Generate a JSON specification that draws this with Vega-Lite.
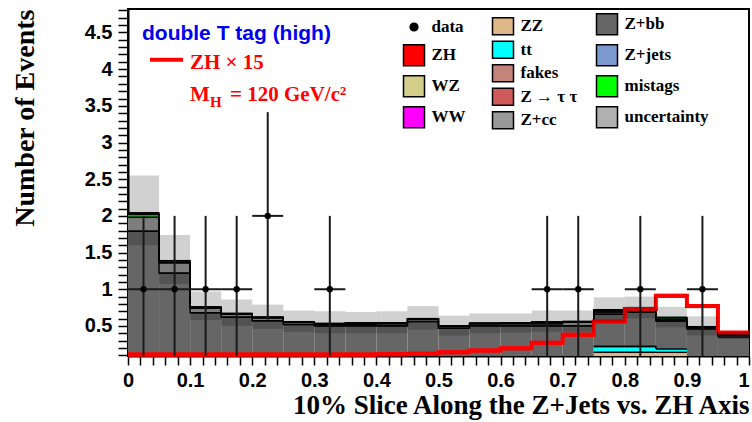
{
  "$schema": "https://vega.github.io/schema/vega-lite/v6.json",
  "width": 621,
  "height": 347,
  "autosize": {"type": "none"},
  "padding": {"left": 128, "top": 9, "right": 3, "bottom": 66},
  "background": "white",
  "config": {
    "view": {"stroke": "black", "strokeWidth": 2},
    "axis": {"grid": false, "domainColor": "black", "domainWidth": 2, "tickColor": "black", "tickWidth": 1.5, "labelFont": "Liberation Sans", "labelFontWeight": "bold", "labelFontSize": 20, "labelColor": "black", "titleFont": "Liberation Serif", "titleFontWeight": "bold", "titleColor": "black", "labelOverlap": false, "labelFlush": false},
    "legend": {"padding": 0, "labelFont": "Liberation Serif", "labelFontWeight": "bold", "labelFontSize": 17, "labelColor": "black", "symbolStrokeColor": "black", "symbolStrokeWidth": 1.5}
  },
  "datasets": {
    "comps": [
      {"x0":0,"x1":0.05,"comp":"Z+bb","ord":3,"v":1.79},{"x0":0,"x1":0.05,"comp":"Z+cc","ord":4,"v":0.19},{"x0":0,"x1":0.05,"comp":"mistags","ord":5,"v":0.04},{"x0":0,"x1":0.05,"comp":"fakes","ord":6,"v":0.02},
      {"x0":0.05,"x1":0.1,"comp":"Z+bb","ord":3,"v":1.22},{"x0":0.05,"x1":0.1,"comp":"Z+cc","ord":4,"v":0.14},{"x0":0.05,"x1":0.1,"comp":"mistags","ord":5,"v":0.01},{"x0":0.05,"x1":0.1,"comp":"fakes","ord":6,"v":0.02},
      {"x0":0.1,"x1":0.15,"comp":"Z+bb","ord":3,"v":0.68},{"x0":0.1,"x1":0.15,"comp":"Z+cc","ord":4,"v":0.06},{"x0":0.1,"x1":0.15,"comp":"mistags","ord":5,"v":0.01},{"x0":0.1,"x1":0.15,"comp":"fakes","ord":6,"v":0.01},
      {"x0":0.15,"x1":0.2,"comp":"Z+bb","ord":3,"v":0.62},{"x0":0.15,"x1":0.2,"comp":"Z+cc","ord":4,"v":0.04},{"x0":0.15,"x1":0.2,"comp":"mistags","ord":5,"v":0.005},{"x0":0.15,"x1":0.2,"comp":"fakes","ord":6,"v":0.005},
      {"x0":0.2,"x1":0.25,"comp":"Z+bb","ord":3,"v":0.57},{"x0":0.2,"x1":0.25,"comp":"Z+cc","ord":4,"v":0.04},{"x0":0.2,"x1":0.25,"comp":"mistags","ord":5,"v":0.005},{"x0":0.2,"x1":0.25,"comp":"fakes","ord":6,"v":0.005},
      {"x0":0.25,"x1":0.3,"comp":"Z+bb","ord":3,"v":0.52},{"x0":0.25,"x1":0.3,"comp":"Z+cc","ord":4,"v":0.03},{"x0":0.25,"x1":0.3,"comp":"mistags","ord":5,"v":0.004},{"x0":0.25,"x1":0.3,"comp":"fakes","ord":6,"v":0.004},
      {"x0":0.3,"x1":0.35,"comp":"Z+bb","ord":3,"v":0.5},{"x0":0.3,"x1":0.35,"comp":"Z+cc","ord":4,"v":0.025},{"x0":0.3,"x1":0.35,"comp":"mistags","ord":5,"v":0.004},{"x0":0.3,"x1":0.35,"comp":"fakes","ord":6,"v":0.004},
      {"x0":0.35,"x1":0.4,"comp":"Z+bb","ord":3,"v":0.5},{"x0":0.35,"x1":0.4,"comp":"Z+cc","ord":4,"v":0.02},{"x0":0.35,"x1":0.4,"comp":"mistags","ord":5,"v":0.02},{"x0":0.35,"x1":0.4,"comp":"fakes","ord":6,"v":0.004},
      {"x0":0.4,"x1":0.45,"comp":"Z+bb","ord":3,"v":0.5},{"x0":0.4,"x1":0.45,"comp":"Z+cc","ord":4,"v":0.03},{"x0":0.4,"x1":0.45,"comp":"mistags","ord":5,"v":0.008},{"x0":0.4,"x1":0.45,"comp":"fakes","ord":6,"v":0.004},
      {"x0":0.45,"x1":0.5,"comp":"Z+bb","ord":3,"v":0.56},{"x0":0.45,"x1":0.5,"comp":"Z+cc","ord":4,"v":0.03},{"x0":0.45,"x1":0.5,"comp":"mistags","ord":5,"v":0.006},{"x0":0.45,"x1":0.5,"comp":"fakes","ord":6,"v":0.004},
      {"x0":0.5,"x1":0.55,"comp":"Z+bb","ord":3,"v":0.47},{"x0":0.5,"x1":0.55,"comp":"Z+cc","ord":4,"v":0.025},{"x0":0.5,"x1":0.55,"comp":"mistags","ord":5,"v":0.004},{"x0":0.5,"x1":0.55,"comp":"fakes","ord":6,"v":0.003},
      {"x0":0.55,"x1":0.6,"comp":"Z+bb","ord":3,"v":0.5},{"x0":0.55,"x1":0.6,"comp":"Z+cc","ord":4,"v":0.03},{"x0":0.55,"x1":0.6,"comp":"mistags","ord":5,"v":0.004},{"x0":0.55,"x1":0.6,"comp":"fakes","ord":6,"v":0.004},
      {"x0":0.6,"x1":0.65,"comp":"Z+bb","ord":3,"v":0.5},{"x0":0.6,"x1":0.65,"comp":"Z+cc","ord":4,"v":0.03},{"x0":0.6,"x1":0.65,"comp":"mistags","ord":5,"v":0.006},{"x0":0.6,"x1":0.65,"comp":"fakes","ord":6,"v":0.004},
      {"x0":0.65,"x1":0.7,"comp":"Z+bb","ord":3,"v":0.5},{"x0":0.65,"x1":0.7,"comp":"Z+cc","ord":4,"v":0.03},{"x0":0.65,"x1":0.7,"comp":"mistags","ord":5,"v":0.02},{"x0":0.65,"x1":0.7,"comp":"fakes","ord":6,"v":0.004},
      {"x0":0.7,"x1":0.75,"comp":"Z+bb","ord":3,"v":0.5},{"x0":0.7,"x1":0.75,"comp":"Z+cc","ord":4,"v":0.05},{"x0":0.7,"x1":0.75,"comp":"mistags","ord":5,"v":0.006},{"x0":0.7,"x1":0.75,"comp":"fakes","ord":6,"v":0.004},
      {"x0":0.75,"x1":0.8,"comp":"ZZ","ord":1,"v":0.14},{"x0":0.75,"x1":0.8,"comp":"tt","ord":2,"v":0.08},{"x0":0.75,"x1":0.8,"comp":"Z+bb","ord":3,"v":0.44},{"x0":0.75,"x1":0.8,"comp":"Z+cc","ord":4,"v":0.03},{"x0":0.75,"x1":0.8,"comp":"mistags","ord":5,"v":0.02},{"x0":0.75,"x1":0.8,"comp":"fakes","ord":6,"v":0.01},
      {"x0":0.8,"x1":0.85,"comp":"ZZ","ord":1,"v":0.14},{"x0":0.8,"x1":0.85,"comp":"tt","ord":2,"v":0.08},{"x0":0.8,"x1":0.85,"comp":"Z+bb","ord":3,"v":0.47},{"x0":0.8,"x1":0.85,"comp":"Z+cc","ord":4,"v":0.03},{"x0":0.8,"x1":0.85,"comp":"mistags","ord":5,"v":0.02},{"x0":0.8,"x1":0.85,"comp":"fakes","ord":6,"v":0.01},
      {"x0":0.85,"x1":0.9,"comp":"ZZ","ord":1,"v":0.14},{"x0":0.85,"x1":0.9,"comp":"tt","ord":2,"v":0.045},{"x0":0.85,"x1":0.9,"comp":"Z+bb","ord":3,"v":0.38},{"x0":0.85,"x1":0.9,"comp":"Z+cc","ord":4,"v":0.02},{"x0":0.85,"x1":0.9,"comp":"mistags","ord":5,"v":0.025},{"x0":0.85,"x1":0.9,"comp":"fakes","ord":6,"v":0.006},
      {"x0":0.9,"x1":0.95,"comp":"Z+bb","ord":3,"v":0.46},{"x0":0.9,"x1":0.95,"comp":"Z+cc","ord":4,"v":0.02},{"x0":0.9,"x1":0.95,"comp":"mistags","ord":5,"v":0.006},{"x0":0.9,"x1":0.95,"comp":"fakes","ord":6,"v":0.004},
      {"x0":0.95,"x1":1,"comp":"Z+bb","ord":3,"v":0.35},{"x0":0.95,"x1":1,"comp":"Z+cc","ord":4,"v":0.02},{"x0":0.95,"x1":1,"comp":"mistags","ord":5,"v":0.004},{"x0":0.95,"x1":1,"comp":"fakes","ord":6,"v":0.006}
    ],
    "hist": [
      {"x0":0,"x1":0.05,"zh":0.11,"lo":1.6,"hi":2.55},
      {"x0":0.05,"x1":0.1,"zh":0.11,"lo":1.07,"hi":1.74},
      {"x0":0.1,"x1":0.15,"zh":0.11,"lo":0.58,"hi":0.97},
      {"x0":0.15,"x1":0.2,"zh":0.11,"lo":0.5,"hi":0.86},
      {"x0":0.2,"x1":0.25,"zh":0.11,"lo":0.46,"hi":0.79},
      {"x0":0.25,"x1":0.3,"zh":0.11,"lo":0.42,"hi":0.71},
      {"x0":0.3,"x1":0.35,"zh":0.11,"lo":0.4,"hi":0.7},
      {"x0":0.35,"x1":0.4,"zh":0.11,"lo":0.4,"hi":0.69},
      {"x0":0.4,"x1":0.45,"zh":0.115,"lo":0.4,"hi":0.7},
      {"x0":0.45,"x1":0.5,"zh":0.12,"lo":0.45,"hi":0.77},
      {"x0":0.5,"x1":0.55,"zh":0.14,"lo":0.37,"hi":0.64},
      {"x0":0.55,"x1":0.6,"zh":0.165,"lo":0.4,"hi":0.67},
      {"x0":0.6,"x1":0.65,"zh":0.195,"lo":0.41,"hi":0.67},
      {"x0":0.65,"x1":0.7,"zh":0.27,"lo":0.42,"hi":0.71},
      {"x0":0.7,"x1":0.75,"zh":0.38,"lo":0.42,"hi":0.71},
      {"x0":0.75,"x1":0.8,"zh":0.56,"lo":0.55,"hi":0.89},
      {"x0":0.8,"x1":0.85,"zh":0.73,"lo":0.6,"hi":0.9},
      {"x0":0.85,"x1":0.9,"zh":0.91,"lo":0.48,"hi":0.76},
      {"x0":0.9,"x1":0.95,"zh":0.77,"lo":0.37,"hi":0.63},
      {"x0":0.95,"x1":1,"zh":0.41,"lo":0.32,"hi":0.42}
    ],
    "obs": [
      {"xc":0.025,"x0":0,"x1":0.05,"n":1,"elo":0,"ehi":2},
      {"xc":0.075,"x0":0.05,"x1":0.1,"n":1,"elo":0,"ehi":2},
      {"xc":0.125,"x0":0.1,"x1":0.15,"n":1,"elo":0,"ehi":2},
      {"xc":0.175,"x0":0.15,"x1":0.2,"n":1,"elo":0,"ehi":2},
      {"xc":0.225,"x0":0.2,"x1":0.25,"n":2,"elo":0.586,"ehi":3.414},
      {"xc":0.325,"x0":0.3,"x1":0.35,"n":1,"elo":0,"ehi":2},
      {"xc":0.675,"x0":0.65,"x1":0.7,"n":1,"elo":0,"ehi":2},
      {"xc":0.725,"x0":0.7,"x1":0.75,"n":1,"elo":0,"ehi":2},
      {"xc":0.825,"x0":0.8,"x1":0.85,"n":1,"elo":0,"ehi":2},
      {"xc":0.925,"x0":0.9,"x1":0.95,"n":1,"elo":0,"ehi":2}
    ]
  },
  "layer": [
    {
      "data": {"name": "comps"},
      "transform": [
        {"stack": "v", "groupby": ["x0"], "sort": [{"field": "ord", "order": "ascending"}], "as": ["s0", "s1"]},
        {"filter": {"field": "comp", "oneOf": ["Z+bb", "mistags"]}}
      ],
      "mark": {"type": "bar", "strokeWidth": 0, "clip": true},
      "encoding": {
        "x": {"field": "x0", "type": "quantitative", "scale": {"domain": [0, 1], "nice": false, "zero": false},
          "axis": {"title": "10% Slice Along the Z+Jets vs. ZH Axis", "titleAnchor": "end", "titleFontSize": 27, "titlePadding": 2, "tickSize": 9, "labelPadding": 5, "tickCount": 200,
            "values": [0,0.02,0.04,0.06,0.08,0.1,0.12,0.14,0.16,0.18,0.2,0.22,0.24,0.26,0.28,0.3,0.32,0.34,0.36,0.38,0.4,0.42,0.44,0.46,0.48,0.5,0.52,0.54,0.56,0.58,0.6,0.62,0.64,0.66,0.68,0.7,0.72,0.74,0.76,0.78,0.8,0.82,0.84,0.86,0.88,0.9,0.92,0.94,0.96,0.98,1],
            "labelExpr": "abs(datum.value*10 - round(datum.value*10)) < 0.001 ? format(datum.value, '~g') : ''",
            "labelAlign": {"condition": {"test": "datum.value >= 0.999", "value": "right"}, "value": "center"},
            "encode": {"ticks": {"update": {"y2": {"signal": "abs(datum.value*10 - round(datum.value*10)) < 0.001 ? 9 : 5"}}}}}},
        "x2": {"field": "x1"},
        "y": {"field": "s0", "type": "quantitative", "scale": {"domain": [0.09, 4.82], "nice": false, "zero": false},
          "axis": {"title": "Number of Events", "titleAnchor": "end", "titleFontSize": 28, "titlePadding": 45, "tickSize": 10, "labelPadding": 6, "tickCount": 200,
            "values": [0.1,0.2,0.3,0.4,0.5,0.6,0.7,0.8,0.9,1,1.1,1.2,1.3,1.4,1.5,1.6,1.7,1.8,1.9,2,2.1,2.2,2.3,2.4,2.5,2.6,2.7,2.8,2.9,3,3.1,3.2,3.3,3.4,3.5,3.6,3.7,3.8,3.9,4,4.1,4.2,4.3,4.4,4.5,4.6,4.7,4.8],
            "labelExpr": "abs(datum.value*2 - round(datum.value*2)) < 0.001 ? format(datum.value, '~g') : ''",
            "encode": {"ticks": {"update": {"x2": {"signal": "abs(datum.value*2 - round(datum.value*2)) < 0.001 ? -10 : -5"}}}}}},
        "y2": {"field": "s1"},
        "color": {"field": "comp", "type": "nominal",
          "scale": {"domain": ["data", "ZH", "WZ", "WW", "Z+bb", "Z+jets", "mistags", "uncertainty"], "range": ["#000000", "#ff0000", "#d3cf8b", "#ff00ff", "#666666", "#7b98cf", "#00ff00", "#b0b0b0"]},
          "legend": {"title": null, "orient": "none", "legendX": 274.5, "legendY": 3.75, "columns": 2, "columnPadding": 128, "rowPadding": 4, "symbolType": "square", "symbolSize": 441, "labelOffset": 6,
            "encode": {"symbols": {"update": {"shape": {"signal": "datum.value === 'data' ? 'circle' : 'square'"}, "size": {"signal": "datum.value === 'data' ? 60 : 441"}, "stroke": {"value": "black"}, "strokeWidth": {"value": 1.5}}}}}}
      }
    },
    {
      "data": {"name": "comps"},
      "transform": [
        {"stack": "v", "groupby": ["x0"], "sort": [{"field": "ord", "order": "ascending"}], "as": ["s0", "s1"]},
        {"filter": {"field": "comp", "oneOf": ["ZZ", "tt", "fakes", "Z+cc"]}}
      ],
      "mark": {"type": "bar", "strokeWidth": 0, "clip": true},
      "encoding": {
        "x": {"field": "x0", "type": "quantitative"},
        "x2": {"field": "x1"},
        "y": {"field": "s0", "type": "quantitative"},
        "y2": {"field": "s1"},
        "fill": {"field": "comp", "type": "nominal",
          "scale": {"domain": ["ZZ", "tt", "fakes", "Z → τ τ", "Z+cc"], "range": ["#deb887", "#00ffff", "#c4847a", "#d05a5a", "#999999"]},
          "legend": {"title": null, "orient": "none", "legendX": 363.5, "legendY": 5.75, "direction": "vertical", "rowPadding": 0.5, "symbolType": "M-1,-0.8H1V0.8H-1Z", "symbolSize": 441, "labelOffset": 6,
            "encode": {"symbols": {"update": {"stroke": {"value": "black"}, "strokeWidth": {"value": 1.5}}}}}}
      }
    },
    {
      "data": {"name": "comps"},
      "transform": [
        {"stack": "v", "groupby": ["x0"], "sort": [{"field": "ord", "order": "ascending"}], "as": ["s0", "s1"]}
      ],
      "mark": {"type": "rule", "color": "black", "strokeWidth": 1.4, "clip": true},
      "encoding": {
        "x": {"field": "x0", "type": "quantitative"},
        "x2": {"field": "x1"},
        "y": {"field": "s1", "type": "quantitative"}
      }
    },
    {
      "data": {"name": "comps"},
      "transform": [
        {"stack": "v", "groupby": ["x0"], "sort": [{"field": "ord", "order": "ascending"}], "as": ["s0", "s1"]}
      ],
      "mark": {"type": "line", "interpolate": "step-after", "color": "black", "strokeWidth": 1.4, "clip": true},
      "encoding": {
        "x": {"field": "x0", "type": "quantitative"},
        "y": {"field": "s1", "type": "quantitative"},
        "detail": {"field": "comp", "type": "nominal"}
      }
    },
    {
      "data": {"name": "hist"},
      "mark": {"type": "line", "interpolate": "step-after", "color": "#ff0000", "strokeWidth": 4},
      "encoding": {
        "x": {"field": "x0", "type": "quantitative"},
        "y": {"field": "zh", "type": "quantitative"}
      }
    },
    {
      "data": {"name": "hist"},
      "mark": {"type": "rule", "color": "#ff0000", "strokeWidth": 4},
      "encoding": {
        "x": {"field": "x0", "type": "quantitative"},
        "x2": {"field": "x1"},
        "y": {"field": "zh", "type": "quantitative"}
      }
    },
    {
      "data": {"name": "hist"},
      "mark": {"type": "bar", "fill": "black", "fillOpacity": 0.18, "strokeWidth": 0, "clip": true},
      "encoding": {
        "x": {"field": "x0", "type": "quantitative"},
        "x2": {"field": "x1"},
        "y": {"field": "lo", "type": "quantitative"},
        "y2": {"field": "hi"}
      }
    },
    {
      "data": {"name": "obs"},
      "mark": {"type": "rule", "color": "#1a1a1a", "strokeWidth": 2, "clip": true},
      "encoding": {
        "x": {"field": "xc", "type": "quantitative"},
        "y": {"field": "elo", "type": "quantitative"},
        "y2": {"field": "ehi"}
      }
    },
    {
      "data": {"name": "obs"},
      "mark": {"type": "rule", "color": "#1a1a1a", "strokeWidth": 2, "clip": true},
      "encoding": {
        "x": {"field": "x0", "type": "quantitative"},
        "x2": {"field": "x1"},
        "y": {"field": "n", "type": "quantitative"}
      }
    },
    {
      "data": {"name": "obs"},
      "mark": {"type": "point", "filled": true, "color": "black", "opacity": 1, "size": 40},
      "encoding": {
        "x": {"field": "xc", "type": "quantitative"},
        "y": {"field": "n", "type": "quantitative"}
      }
    },
    {
      "data": {"values": [{}]},
      "mark": {"type": "text", "text": "double T tag (high)", "font": "Liberation Sans", "fontWeight": "bold", "fontSize": 21, "color": "#0000ee", "align": "left", "baseline": "middle"},
      "encoding": {"x": {"datum": 0.0225, "type": "quantitative"}, "y": {"datum": 4.48, "type": "quantitative"}}
    },
    {
      "data": {"values": [{}]},
      "mark": {"type": "rule", "color": "#ff0000", "strokeWidth": 4},
      "encoding": {"x": {"datum": 0.0354, "type": "quantitative"}, "x2": {"datum": 0.0886}, "y": {"datum": 4.127, "type": "quantitative"}}
    },
    {
      "data": {"values": [{}]},
      "mark": {"type": "text", "text": "ZH × 15", "font": "Liberation Serif", "fontWeight": "bold", "fontSize": 21, "color": "#ff0000", "align": "left", "baseline": "middle"},
      "encoding": {"x": {"datum": 0.0998, "type": "quantitative"}, "y": {"datum": 4.08, "type": "quantitative"}}
    },
    {
      "data": {"values": [{}]},
      "mark": {"type": "text", "text": "M", "font": "Liberation Serif", "fontWeight": "bold", "fontSize": 21, "color": "#ff0000", "align": "left", "baseline": "middle"},
      "encoding": {"x": {"datum": 0.0998, "type": "quantitative"}, "y": {"datum": 3.65, "type": "quantitative"}}
    },
    {
      "data": {"values": [{}]},
      "mark": {"type": "text", "text": "H", "font": "Liberation Serif", "fontWeight": "bold", "fontSize": 15, "color": "#ff0000", "align": "left", "baseline": "middle"},
      "encoding": {"x": {"datum": 0.132, "type": "quantitative"}, "y": {"datum": 3.555, "type": "quantitative"}}
    },
    {
      "data": {"values": [{}]},
      "mark": {"type": "text", "text": "= 120 GeV/c²", "font": "Liberation Serif", "fontWeight": "bold", "fontSize": 21, "color": "#ff0000", "align": "left", "baseline": "middle"},
      "encoding": {"x": {"datum": 0.1643, "type": "quantitative"}, "y": {"datum": 3.65, "type": "quantitative"}}
    }
  ]
}
